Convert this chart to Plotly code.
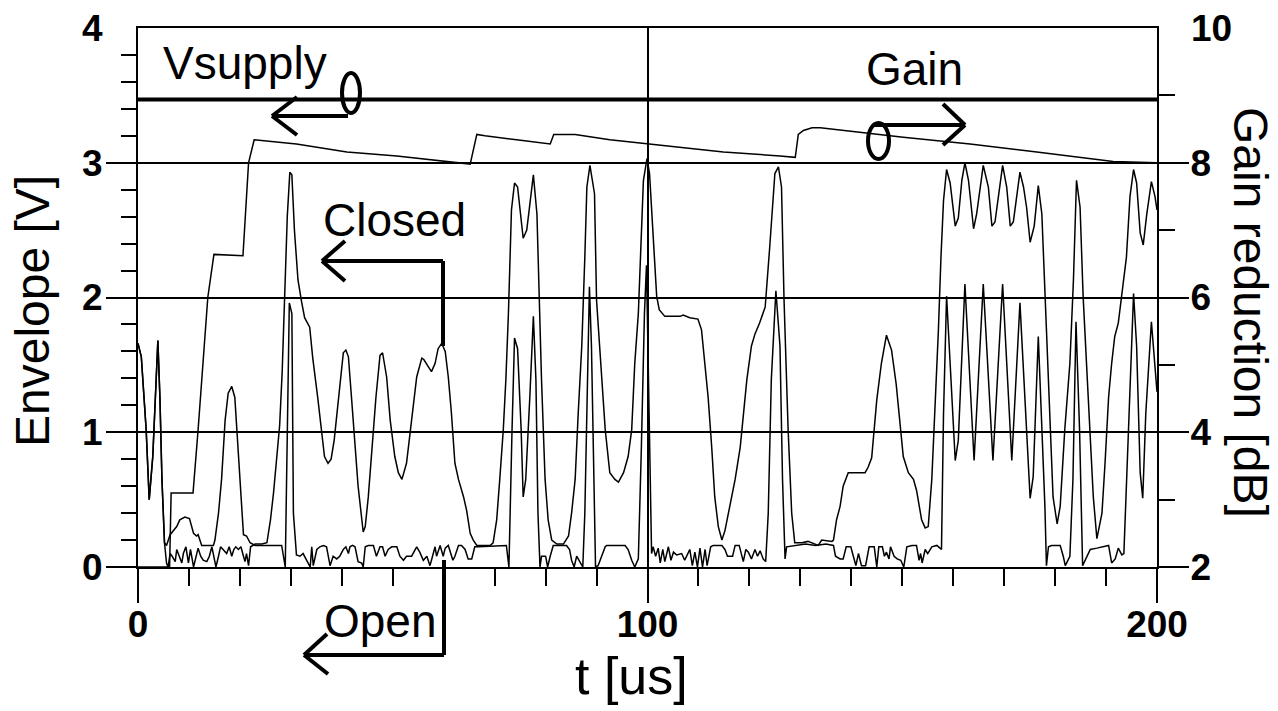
import plotly.graph_objects as go

W, H = 1278, 711
L, R, T, B = 138, 1157, 28, 567  # plot area in px

# ---------------- data ----------------
closed_t = [0, 0.65, 1.6, 2.2, 2.9, 3.9, 4.3, 4.7, 5.2,
            5.6, 5.9, 6.3, 6.7, 7.3, 7.6, 8.1, 8.6, 8.9, 9.4, 9.9, 10.3, 10.9, 11.4, 11.8, 12.3, 12.8,
            13.5, 14.0, 14.5, 14.9, 15.3, 15.8, 16.2, 16.7, 17.4, 17.9, 18.4, 18.8, 19.2, 19.7, 20.2,
            20.7, 21.0, 21.3, 21.7, 22.1, 23.0, 24.3, 25.3,
            26.0, 26.6, 27.2, 27.8, 28.3, 28.8, 29.3, 29.8, 30.2, 30.7, 31.4, 32.1, 32.7, 33.7, 34.3,
            35.3, 36.0, 36.6, 37.3, 37.9, 38.5, 39.3, 40.3, 40.8, 41.3, 41.9, 42.6, 43.2, 44.2, 44.6,
            45.2, 45.9, 46.7, 47.5, 48.0, 48.8, 49.5, 50.4, 51.1, 51.8, 52.7, 53.7, 54.7, 55.7, 56.1,
            56.9, 57.6, 58.3, 58.9, 59.6, 60.3, 60.9, 61.5, 62.2, 62.9, 63.9, 64.5, 65.2, 65.8, 66.5,
            69.1, 69.7, 70.4, 71.0, 71.7, 72.2, 72.7, 73.3, 73.9, 74.5, 75.6, 76.3, 77.6, 78.3, 78.7,
            79.2, 79.9, 80.5, 81.2, 82.2, 83.5, 84.5, 85.1, 85.8, 86.4, 87.1, 87.7, 88.1, 88.7, 89.6,
            90.0, 91.0, 91.7, 92.6, 93.6, 94.3, 95.3, 96.2, 96.9, 97.5, 98.2, 99.2, 99.9, 100.4, 101.1,
            101.8, 102.3, 103.4, 106.4, 107.0, 108.3, 109.9, 110.6, 111.3, 111.9, 112.6, 113.2, 113.9,
            114.6, 115.2, 116.2, 117.2, 118.2, 118.8, 119.5, 120.4, 121.1, 122.0, 123.1, 124.0, 125.0,
            125.7, 126.3, 126.8, 127.6, 128.3, 128.9, 130.3, 131.5, 133.5, 134.2, 136.2, 136.5, 137.1,
            137.8, 138.4, 139.4, 141.1, 142.7, 143.3, 144.0, 145.0, 145.9, 146.9, 147.9, 148.8, 149.6,
            150.2, 151.2, 152.2, 152.8, 153.8, 154.5, 155.1, 155.8, 156.4, 157.1, 157.6, 158.1, 158.7,
            159.4, 160.4, 161.0, 161.7, 162.3, 163.0, 164.0, 164.6, 165.3, 165.9, 166.9, 167.6, 168.2,
            169.0, 169.7, 170.5, 171.2, 171.8, 172.5, 173.1, 173.8, 174.4, 175.1, 175.9, 176.7, 177.4,
            178.3, 179.6, 180.4, 181.0, 181.9, 182.9, 183.6, 184.2, 184.9, 185.5, 186.5, 187.5, 188.2,
            189.2, 189.8, 190.5, 191.1, 191.7, 192.4, 193.1, 194.0, 194.7, 195.4, 196.0, 196.7, 197.3,
            198.0, 198.9, 199.6, 200]
closed_v = [1.66, 1.56, 1.02, 0.50, 0.82, 1.68, 1.26, 0.65, 0.18,
            0.03, 0.0, 0.10, 0.08, 0.04, 0.13, 0.08, 0.03, 0.10, 0.15, 0.03, 0.13, 0.0, 0.08, 0.14, 0.08, 0.05,
            0.04, 0.08, 0.15, 0.08, 0.0, 0.08, 0.15, 0.13, 0.10, 0.15, 0.08, 0.13, 0.15, 0.13, 0.15,
            0.08, 0.04, 0.10, 0.01, 0.15, 0.17, 0.17, 0.18,
            0.35, 0.55, 0.80, 1.05, 1.45, 2.0, 2.6, 2.93, 2.91, 2.50, 2.13, 1.97, 1.85, 1.78, 1.55,
            1.25, 1.0, 0.82, 0.77, 0.80, 0.94, 1.22, 1.59, 1.61, 1.56, 1.26, 0.89, 0.60, 0.26, 0.30,
            0.52, 0.89, 1.26, 1.57, 1.59, 1.41, 1.09, 0.82, 0.70, 0.65, 0.77, 1.09, 1.41, 1.55, 1.54,
            1.49, 1.45, 1.51, 1.62, 1.66, 1.60, 1.41, 1.15, 0.77, 0.65, 0.52, 0.42, 0.25, 0.20, 0.16,
            0.16, 0.18, 0.35, 0.65, 1.02, 1.39, 1.88, 2.65, 2.85, 2.82, 2.44, 2.50, 2.91, 2.62, 1.98,
            1.39, 0.65, 0.35, 0.20, 0.17, 0.17, 0.23, 0.40, 0.65, 1.14, 1.64, 2.30, 2.82, 2.98, 2.77,
            1.98, 1.39, 1.02, 0.70, 0.65, 0.63, 0.70, 0.82, 1.02, 1.51, 1.88, 2.87, 3.03, 2.92, 2.48,
            2.01, 1.91, 1.86, 1.86, 1.87, 1.85, 1.84, 1.76, 1.51, 1.26, 0.89, 0.52, 0.30,
            0.20, 0.27, 0.45, 0.65, 0.89, 1.14, 1.39, 1.64, 1.73, 1.81, 1.93, 2.38, 2.92,
            2.97, 2.82, 1.98, 1.02, 0.40, 0.18, 0.18, 0.19, 0.16, 0.20, 0.19, 0.20, 0.35,
            0.45, 0.60, 0.70, 0.70, 0.70, 0.74, 0.81, 1.24, 1.51, 1.72, 1.61, 1.36, 1.02,
            0.82, 0.70, 0.65, 0.57, 0.35, 0.29, 0.30, 0.65, 1.14, 1.76, 2.30, 2.72, 2.95,
            2.85, 2.53, 2.59, 2.87, 3.00, 2.87, 2.51, 2.62, 2.82, 2.98, 2.82, 2.53, 2.56,
            2.80, 2.98, 2.82, 2.53, 2.56, 2.78, 2.93, 2.82, 2.67, 2.41, 2.53, 2.83, 2.62,
            1.76, 0.52, 0.32, 0.45, 1.02, 1.51, 2.13, 2.87, 2.67, 2.01, 1.26, 0.52, 0.21,
            0.40, 0.77, 1.26, 1.51, 1.71, 1.81, 2.01, 2.30, 2.75, 2.95, 2.85, 2.48, 2.39,
            2.62, 2.86, 2.75, 2.65]

open_t = [0, 0.65, 1.6, 2.2, 2.9, 3.9, 4.3, 4.7, 5.2,
          5.6, 6.3, 7.6, 8.2, 9.2, 10.1, 10.5, 10.9, 11.5, 11.8, 12.5, 14.8, 15.1, 15.8, 16.4, 17.1,
          17.7, 18.4, 19.0, 19.4, 20.0, 20.7, 21.3, 22.0, 23.0, 28.2, 28.9, 29.3, 29.7, 30.2, 30.5,
          31.1, 31.8, 32.4, 33.1, 33.8, 34.1, 34.4, 35.1, 35.7, 36.4, 37.0, 37.7, 38.3, 39.0, 39.6,
          40.3, 40.8, 41.3, 41.6, 42.1, 42.6, 43.2, 43.9, 44.2, 44.6, 45.2, 46.2, 46.8, 47.5, 48.0,
          48.5, 49.1, 49.8, 50.8, 51.4, 52.1, 52.7, 53.7, 54.7, 55.3, 56.0, 56.7, 57.3, 57.6, 58.3,
          58.6, 59.3, 59.9, 60.3, 60.9, 61.8, 62.2, 62.9, 63.5, 64.2, 64.8, 65.5, 66.1, 66.8, 72.3,
          72.8, 73.4, 73.9, 74.5, 75.2, 75.6, 76.1, 76.9, 77.6, 78.1, 78.5, 78.9, 79.2, 80.0, 80.4,
          80.9, 81.5, 84.1, 84.7, 85.1, 85.6, 86.1, 86.6, 87.3, 87.7, 88.2, 88.6, 89.0, 89.5, 89.8,
          90.3, 91.0, 91.7, 92.0, 95.6, 96.2, 96.9, 97.5, 98.2, 98.8, 99.4, 99.8, 100.3, 100.8,
          101.1, 101.6, 102.1, 102.5, 103.0, 103.4, 104.1, 104.6, 105.1, 105.7, 106.7, 107.3, 107.8,
          108.3, 108.8, 109.3, 109.8, 110.3, 110.8, 111.3, 111.7, 112.4, 112.9, 114.6, 115.2, 115.7,
          116.7, 117.2, 118.0, 118.5, 118.8, 119.3, 119.8, 120.4, 121.1, 121.6, 122.1, 122.7, 123.2,
          123.7, 124.3, 125.2, 126.0, 126.5, 127.0, 127.3, 129.0, 131.0, 133.0, 135.0, 136.5, 136.9,
          137.8, 138.4, 139.0, 139.9, 140.4, 140.9, 141.4, 142.0, 142.8, 143.5, 144.5, 145.0, 145.4,
          146.1, 146.5, 146.9, 147.4, 147.7, 148.4, 149.0, 149.7, 150.3, 150.9, 151.9, 152.8, 153.3,
          153.6, 153.9, 154.5, 155.0, 155.8, 156.8, 157.4, 157.7, 158.1, 158.7, 159.4, 160.4, 161.0,
          162.3, 164.1, 165.9, 167.8, 169.7, 171.5, 173.1, 175.1, 175.7, 176.7, 178.0, 178.3, 178.7,
          179.3, 181.0, 181.6, 182.0, 182.9, 183.5, 184.1, 184.8, 185.4, 186.2, 186.9, 188.2, 189.5,
          190.5, 191.1, 191.8, 192.4, 193.1, 193.5, 194.0, 194.7, 195.4, 196.0, 196.7, 197.2, 197.8,
          198.9, 199.8, 200]
open_v = [1.66, 1.56, 1.02, 0.50, 0.82, 1.68, 1.26, 0.65, 0.18,
          0.16, 0.24, 0.30, 0.35, 0.37, 0.36, 0.30, 0.25, 0.23, 0.24, 0.16, 0.16, 0.20, 0.40, 0.65, 1.09,
          1.29, 1.34, 1.26, 1.02, 0.65, 0.24, 0.23, 0.18, 0.16, 0.16, 0.0, 1.0, 1.96, 1.88, 0.40,
          0.09, 0.08, 0.10, 0.05, 0.0, 0.15, 0.01, 0.13, 0.15, 0.16, 0.15, 0.01, 0.08, 0.06, 0.08,
          0.13, 0.15, 0.10, 0.15, 0.16, 0.15, 0.04, 0.03, 0.0, 0.15, 0.16, 0.16, 0.08, 0.15, 0.15,
          0.08, 0.13, 0.15, 0.15, 0.08, 0.05, 0.08, 0.08, 0.15, 0.11, 0.05, 0.08, 0.01, 0.05, 0.15,
          0.08, 0.16, 0.08, 0.14, 0.16, 0.05, 0.08, 0.16, 0.16, 0.13, 0.06, 0.06, 0.15, 0.15, 0.16,
          0.0, 1.0, 1.70, 1.62, 1.02, 0.52, 0.65, 1.26, 1.86, 1.39, 0.40, 0.0, 0.08, 0.08, 0.0,
          0.08, 0.16, 0.16, 0.13, 0.05, 0.0, 0.08, 0.05, 0.0, 0.40, 1.39, 2.08, 1.64, 0.40, 0.0,
          0.01, 0.08, 0.15, 0.16, 0.16, 0.13, 0.05, 0.0, 0.06, 0.89, 1.88, 2.24, 1.20, 0.10,
          0.15, 0.08, 0.14, 0.03, 0.13, 0.04, 0.15, 0.05, 0.11, 0.09, 0.10, 0.05, 0.09,
          0.13, 0.01, 0.11, 0.0, 0.14, 0.0, 0.13, 0.01, 0.15, 0.16, 0.16, 0.13, 0.08,
          0.08, 0.16, 0.16, 0.08, 0.04, 0.13, 0.11, 0.06, 0.13, 0.08, 0.12, 0.06, 0.04,
          0.40, 1.39, 2.05, 1.64, 0.65, 0.06, 0.15, 0.16, 0.17, 0.16, 0.17, 0.16, 0.08,
          0.06, 0.06, 0.15, 0.15, 0.08, 0.01, 0.10, 0.01, 0.01, 0.15, 0.15, 0.0, 0.15,
          0.15, 0.08, 0.11, 0.06, 0.15, 0.08, 0.06, 0.05, 0.0, 0.15, 0.16, 0.16, 0.05,
          0.10, 0.03, 0.13, 0.10, 0.15, 0.16, 0.14, 0.13, 1.14, 2.01, 1.51, 0.79, 0.94,
          2.10, 0.79, 2.10, 0.79, 2.10, 0.79, 1.96, 0.51, 0.67, 1.71, 0.45, 0.01, 0.15,
          0.16, 0.16, 0.08, 0.01, 0.08, 0.65, 1.82, 1.02, 0.01, 0.08, 0.13, 0.14, 0.15,
          0.16, 0.03, 0.06, 0.14, 0.09, 0.10, 0.65, 1.39, 2.03, 1.64, 0.70, 0.51, 1.14,
          1.82, 1.39, 1.30]

gain_t = [0, 6.2, 6.5, 10.8, 11.8, 12.8, 13.7, 14.9, 20.6, 21.7, 22.8, 31.1, 41.0, 50.8, 63.2,
          65.2, 66.5, 68.1, 74.3, 80.9, 81.6, 85.8, 92.6, 99.9, 107.0, 114.9, 126.0, 129.0, 129.6,
          130.6, 132.3, 133.9, 150.2, 163.3, 176.4, 191.4, 200]
gain_db = [2.0, 2.0, 3.1, 3.1, 4.04, 5.02, 6.0, 6.64, 6.62, 8.0, 8.34, 8.28, 8.16, 8.1, 8.0,
           7.98, 8.42, 8.4, 8.34, 8.28, 8.42, 8.42, 8.34, 8.28, 8.22, 8.16, 8.1, 8.08, 8.42,
           8.48, 8.52, 8.52, 8.38, 8.28, 8.16, 8.02, 8.0]

vsupply_t = [0, 200]
vsupply_v = [3.47, 3.47]

x_ticks = [0, 100, 200]
y_ticks = [0, 1, 2, 3]
y2_ticks = [2, 4, 6, 8]

# ---------------- helpers (pixel -> paper) ----------------
def px(x):
    return (x - L) / (R - L)

def py(y):
    return (B - y) / (B - T)

FONT = "Liberation Sans, Arial, sans-serif"
fig = go.Figure()
thin = dict(color="black", width=1.5)
fig.add_trace(go.Scatter(x=closed_t, y=closed_v, mode="lines", line=thin, name="Closed"))
fig.add_trace(go.Scatter(x=open_t, y=open_v, mode="lines", line=thin, name="Open"))
fig.add_trace(go.Scatter(x=gain_t, y=gain_db, mode="lines", line=thin, yaxis="y2", name="Gain"))
fig.add_trace(go.Scatter(x=vsupply_t, y=vsupply_v, mode="lines",
                         line=dict(color="black", width=4), name="Vsupply"))

tickfont = dict(family=FONT, size=37, color="black", weight="bold")
minor_y = [round(0.2 * i, 1) for i in range(1, 20) if i % 5]

fig.update_layout(
    width=W, height=H, autosize=False,
    margin=dict(l=L, r=W - R, t=T, b=H - B, pad=0),
    paper_bgcolor="white", plot_bgcolor="white", showlegend=False,
    xaxis=dict(range=[0, 200], tickmode="array", tickvals=x_ticks, ticks="outside", ticklen=34,
               tickwidth=1.5, tickcolor="black", showgrid=True, gridcolor="black", gridwidth=1.5,
               zeroline=False, showline=True, linecolor="black", linewidth=2, mirror=True,
               tickfont=tickfont, ticklabelstandoff=-10,
               minor=dict(tickmode="linear", tick0=0, dtick=10, ticks="outside", ticklen=17,
                          tickwidth=1.5, tickcolor="black", showgrid=False)),
    yaxis=dict(range=[0, 4], tickmode="array", tickvals=y_ticks, ticks="outside", ticklen=30,
               tickwidth=1.5, tickcolor="black", showgrid=True, gridcolor="black", gridwidth=1.5,
               zeroline=False, showline=True, linecolor="black", linewidth=2,
               tickfont=tickfont, ticklabelstandoff=-4,
               minor=dict(tickmode="array", tickvals=minor_y, ticks="outside", ticklen=15,
                          tickwidth=1.5, tickcolor="black", showgrid=False)),
    yaxis2=dict(range=[2, 10], overlaying="y", side="right", tickmode="array", tickvals=y2_ticks,
                ticks="outside", ticklen=30, tickwidth=1.5, tickcolor="black", showgrid=False,
                zeroline=False, showline=True, linecolor="black", linewidth=2, tickfont=tickfont,
                ticklabelstandoff=-6,
                minor=dict(tickmode="array", tickvals=[3, 5, 7, 9], ticks="outside", ticklen=16,
                           tickwidth=1.5, tickcolor="black", showgrid=False)),
)

lab = dict(family=FONT, size=46, color="black")
title_font = dict(family=FONT, size=48, color="black")
annos = [
    dict(text="4", x=px(105), y=1, xanchor="right", yanchor="middle", font=tickfont),
    dict(text="10", x=px(1189), y=1, xanchor="left", yanchor="middle", font=tickfont),
    dict(text="Envelope [V]", x=px(33), y=py(311), textangle=-90, font=title_font),
    dict(text="Gain reduction [dB]", x=px(1251), y=py(312), textangle=90, font=title_font),
    dict(text="t [us]", x=px(631), y=py(676), font=dict(family=FONT, size=52, color="black")),
    dict(text="Vsupply", x=px(245), y=py(63), font=lab),
    dict(text="Gain", x=px(914), y=py(69), font=lab),
    dict(text="Closed", x=px(394), y=py(220), font=lab),
    dict(text="Open", x=px(380), y=py(621), font=lab),
]
for a in annos:
    a.setdefault("xanchor", "center")
    a.setdefault("yanchor", "middle")
    fig.add_annotation(xref="paper", yref="paper", showarrow=False, **a)

thick = dict(color="black", width=4)
segs = [
    # Vsupply arrow
    (348, 116, 272, 116), (272, 116, 297, 97), (272, 116, 297, 135),
    # Gain arrow
    (873, 125, 965, 125), (965, 125, 943, 104), (965, 125, 943, 145),
    # Closed arrow
    (443, 346, 443, 261), (443, 261, 322, 261), (322, 261, 345, 241), (322, 261, 345, 281),
    # Open arrow
    (444, 560, 444, 655), (444, 655, 304, 655), (304, 655, 327, 634), (304, 655, 328, 674),
]
for x0, y0, x1, y1 in segs:
    fig.add_shape(type="line", xref="paper", yref="paper", x0=px(x0), y0=py(y0), x1=px(x1),
                  y1=py(y1), line=thick)
for x0, y0, x1, y1 in [(342, 73, 360, 113), (868, 123, 889, 159)]:
    fig.add_shape(type="circle", xref="paper", yref="paper", x0=px(x0), y0=py(y1), x1=px(x1),
                  y1=py(y0), line=thick)

fig.write_html("out.html")
